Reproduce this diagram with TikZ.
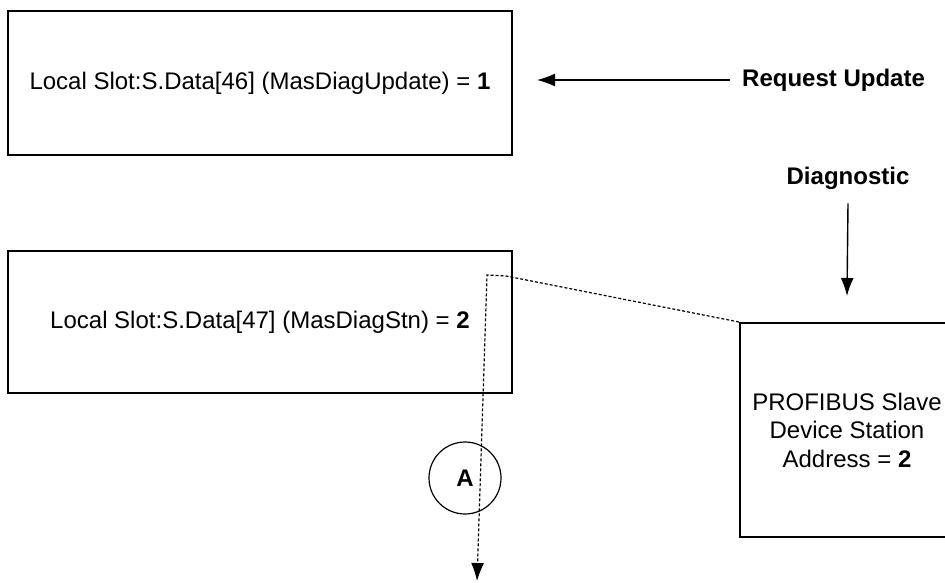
\documentclass[tikz,border=0pt]{standalone}
\usepackage{fontspec}
\setmainfont{Liberation Sans}
\usetikzlibrary{arrows.meta}

\begin{document}
\begin{tikzpicture}[x=1pt, y=-1pt,
    font=\fontsize{24}{28.5}\selectfont,
    caja/.style={draw, line width=2pt, inner sep=0pt, align=center},
    etiqueta/.style={inner sep=2pt, font=\fontsize{24}{28.5}\selectfont\bfseries},
    flecha/.style={line width=1.4pt, -{Latex[length=18pt, width=13pt]}},
    punteada/.style={line width=1.2pt, dash pattern=on 3pt off 2pt, -{Latex[length=18pt, width=13pt]}}]
                \def\ancho{945}
                \def\alto{583}
                \useasboundingbox (0,0) rectangle (\ancho,\alto);
                \clip (0,0) rectangle (\ancho,\alto);
                \node[caja, minimum width=504pt, minimum height=144pt] (slot46) at (260,83)
                  {Local Slot:S.Data[46] (MasDiagUpdate) = \textbf{1}};
                \node[caja, minimum width=504pt, minimum height=142pt] (slot47) at (260,322)
                  {Local Slot:S.Data[47] (MasDiagStn) = \textbf{2}};
                \node[caja, minimum width=214pt, minimum height=214pt] (stn) at (847,430)
                  {PROFIBUS Slave\\Device Station\\Address = \textbf{2}};
                \node[etiqueta, anchor=west] (req) at (740,80) {Request Update};
                \node[etiqueta] (diag) at (848,178) {Diagnostic};
                \node[draw, circle, line width=1.2pt, minimum size=72pt, inner sep=0pt,
                  font=\fontsize{24}{28.5}\selectfont\bfseries] (markA) at (465,478) {A};
                \path (slot46.east) ++(24,-3) coordinate (tipReq);
                \coordinate (tap) at (487,275);
                \coordinate (codo) at (506,276);
                \coordinate (sink) at (477,581);
                \draw[flecha] ([xshift=-10pt]req.west) -- (tipReq);
                \draw[flecha] ([yshift=-12pt]diag.south) -- ([yshift=26pt]stn.north);
                \draw[punteada] (stn.north west) -- (codo) -- (tap) -- (sink);
              \end{tikzpicture}
\end{document}
